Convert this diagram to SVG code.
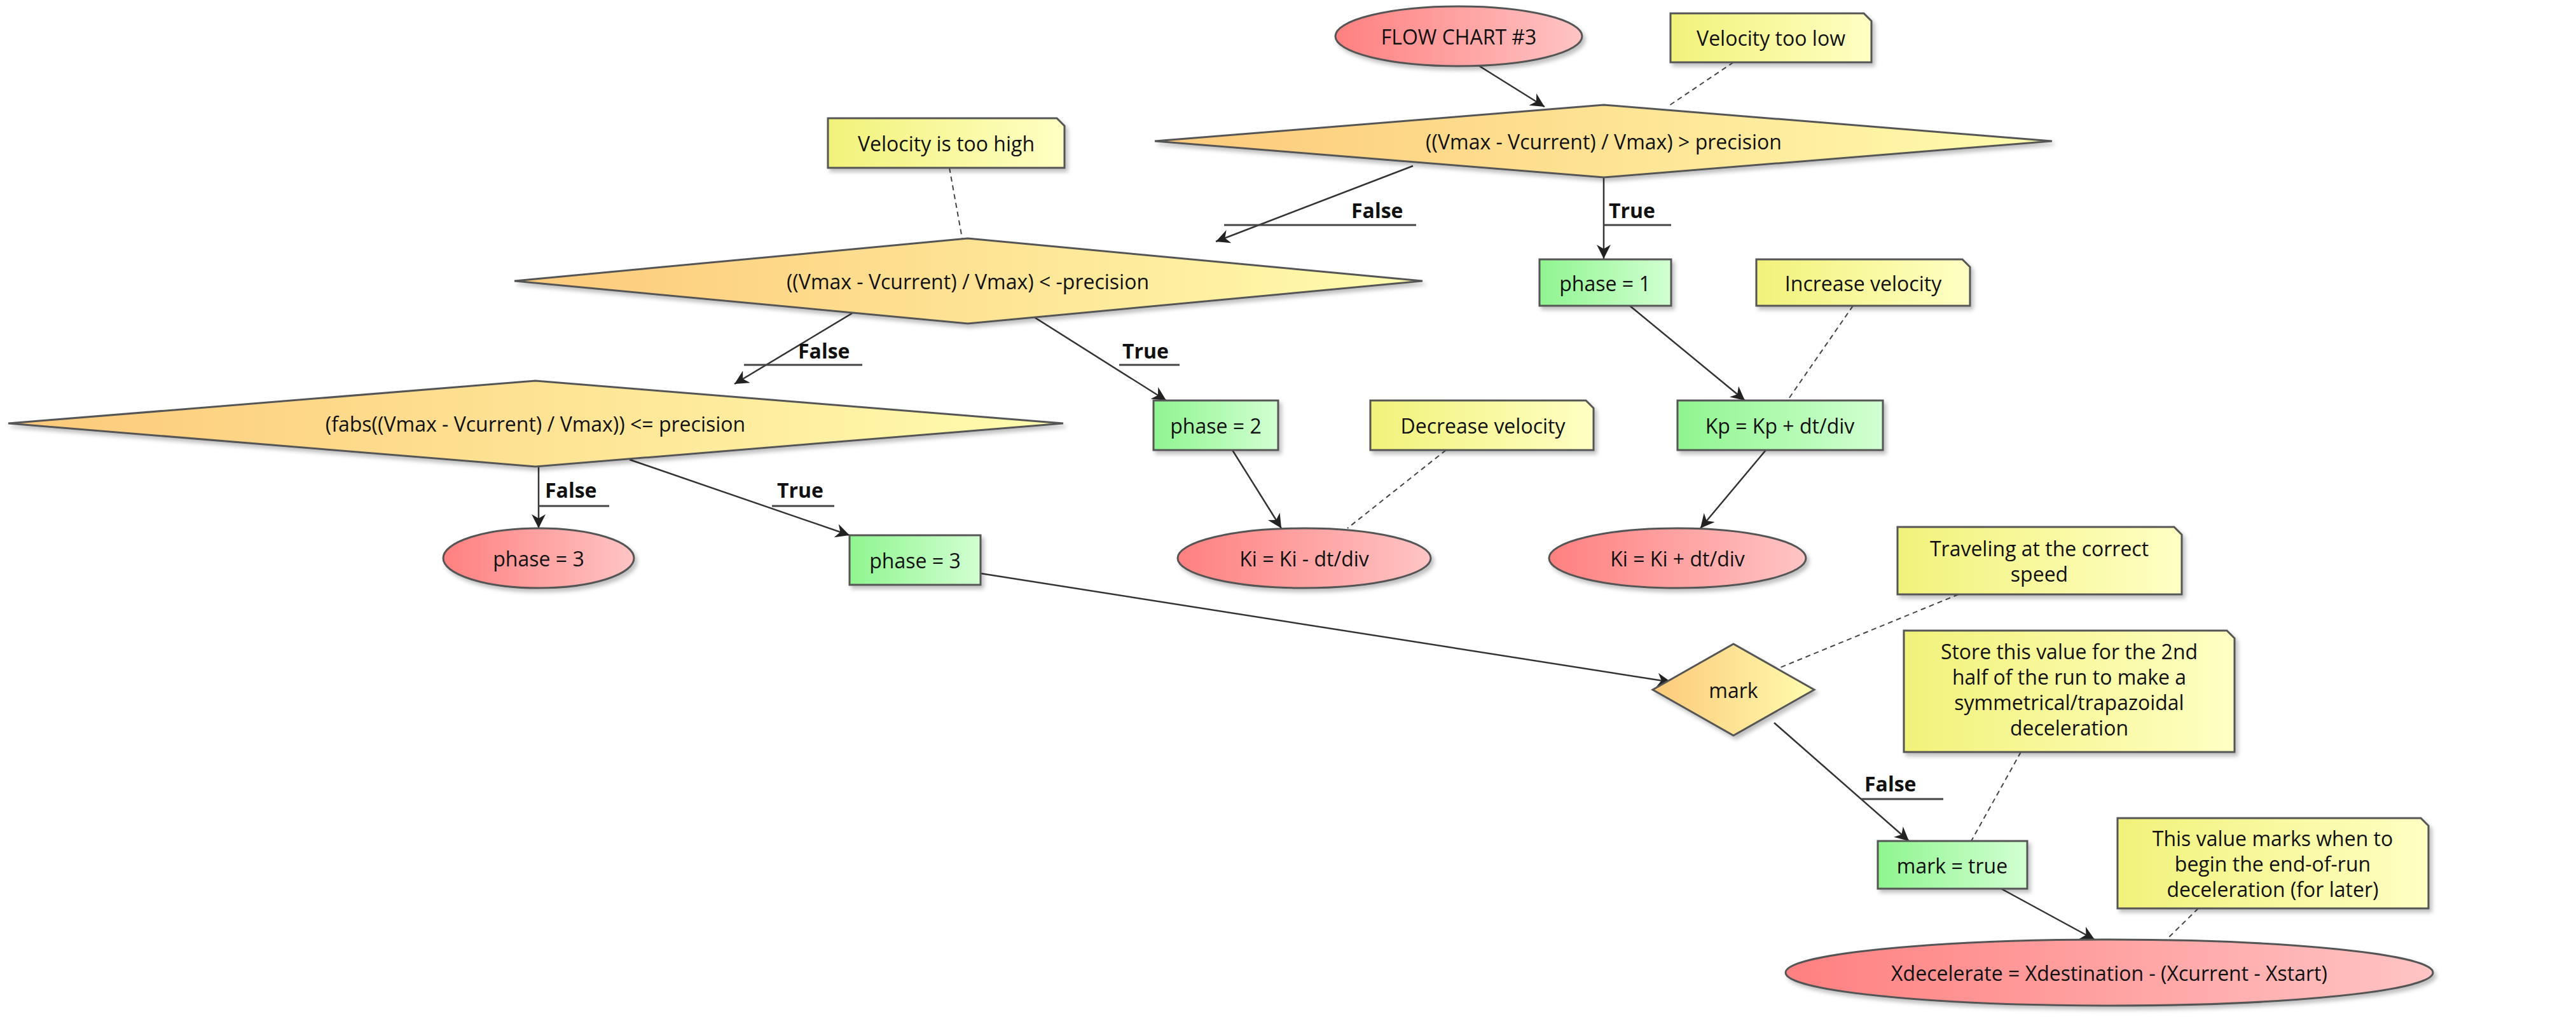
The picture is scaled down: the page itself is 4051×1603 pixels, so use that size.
<svg xmlns="http://www.w3.org/2000/svg" width="4051" height="1603" viewBox="0 0 4051 1603">
<defs>
<linearGradient id="gR" x1="0" x2="1" y1="0" y2="0"><stop offset="0" stop-color="#ff8080"/><stop offset="1" stop-color="#ffc4c4"/></linearGradient>
<linearGradient id="gD" x1="0" x2="1" y1="0" y2="0"><stop offset="0" stop-color="#fdc97a"/><stop offset="1" stop-color="#fffcae"/></linearGradient>
<linearGradient id="gG" x1="0" x2="1" y1="0" y2="0"><stop offset="0" stop-color="#8ff58f"/><stop offset="1" stop-color="#d2ffd2"/></linearGradient>
<linearGradient id="gN" x1="0" x2="1" y1="0" y2="0"><stop offset="0" stop-color="#f1f27a"/><stop offset="1" stop-color="#ffffc4"/></linearGradient>
<marker id="arr" viewBox="0 0 10 10" refX="10" refY="5" markerWidth="22" markerHeight="22" markerUnits="userSpaceOnUse" orient="auto"><path d="M0,0 L10,5 L0,10 L3,5 z" fill="#222"/></marker>
<filter id="sh" x="-10%" y="-10%" width="130%" height="140%"><feDropShadow dx="4" dy="5" stdDeviation="3" flood-color="#000" flood-opacity="0.25"/></filter>
</defs>
<style>
text{font-family:"Open Sans","DejaVu Sans",sans-serif;font-size:32px;fill:#111;text-anchor:middle;dominant-baseline:central}
.lb{font-weight:bold;text-anchor:start}
.sh{stroke:#555;stroke-width:3;filter:url(#sh)}
.e{stroke:#333;stroke-width:2.5;fill:none;marker-end:url(#arr)}
.d{stroke:#444;stroke-width:2;fill:none;stroke-dasharray:8,6}
.u{stroke:#444;stroke-width:3}
</style>
<rect width="4051" height="1603" fill="#fff"/>
<g id="connectors">
<line class="e" x1="2325" y1="103" x2="2429" y2="168"/>
<line class="d" x1="2726" y1="98" x2="2622" y2="168"/>
<line class="e" x1="2222" y1="261" x2="1912" y2="380"/>
<text class="lb" x="2125" y="330">False</text><line class="u" x1="1925" y1="354" x2="2227" y2="354"/>
<line class="e" x1="2522" y1="279" x2="2522" y2="407"/>
<text class="lb" x="2530" y="330">True</text><line class="u" x1="2522" y1="354" x2="2628" y2="354"/>
<line class="d" x1="1493" y1="264" x2="1514" y2="380"/>
<line class="e" x1="1343" y1="491" x2="1155" y2="604"/>
<text class="lb" x="1255" y="551">False</text><line class="u" x1="1170" y1="574" x2="1356" y2="574"/>
<line class="e" x1="1617" y1="493" x2="1834" y2="630"/>
<text class="lb" x="1765" y="551">True</text><line class="u" x1="1760" y1="574" x2="1855" y2="574"/>
<line class="e" x1="847" y1="734" x2="847" y2="831"/>
<text class="lb" x="857" y="770">False</text><line class="u" x1="847" y1="796" x2="958" y2="796"/>
<line class="e" x1="990" y1="723" x2="1336" y2="842"/>
<text class="lb" x="1222" y="770">True</text><line class="u" x1="1214" y1="796" x2="1312" y2="796"/>
<line class="e" x1="1938" y1="708" x2="2015" y2="831"/>
<line class="d" x1="2274" y1="708" x2="2119" y2="831"/>
<line class="e" x1="2563" y1="481" x2="2744" y2="630"/>
<line class="d" x1="2914" y1="481" x2="2811" y2="630"/>
<line class="e" x1="2777" y1="708" x2="2674" y2="831"/>
<line class="e" x1="1542" y1="902" x2="2628" y2="1073"/>
<line class="d" x1="3080" y1="935" x2="2790" y2="1054"/>
<line class="e" x1="2790" y1="1137" x2="3002" y2="1323"/>
<text class="lb" x="2932" y="1232">False</text><line class="u" x1="2927" y1="1257" x2="3056" y2="1257"/>
<line class="d" x1="3178" y1="1183" x2="3100" y2="1323"/>
<line class="e" x1="3147" y1="1398" x2="3294" y2="1478"/>
<line class="d" x1="3457" y1="1429" x2="3405" y2="1480"/>
</g>
<g id="start"><ellipse class="sh" cx="2294" cy="57" rx="194" ry="47" fill="url(#gR)"/><text x="2294" y="57">FLOW CHART #3</text></g>
<g id="noteLow"><path class="sh" d="M2627,21 H2931 L2943,33 V98 H2627 Z" fill="url(#gN)"/><text x="2785" y="59">Velocity too low</text></g>
<g id="d1"><path class="sh" d="M1816,222 L2522,165 L3227,222 L2522,279 Z" fill="url(#gD)"/><text x="2522" y="222">((Vmax - Vcurrent) / Vmax) &gt; precision</text></g>
<g id="noteHigh"><path class="sh" d="M1302,186 H1662 L1674,198 V264 H1302 Z" fill="url(#gN)"/><text x="1488" y="225">Velocity is too high</text></g>
<g id="d2"><path class="sh" d="M809,442 L1522,375 L2237,442 L1522,509 Z" fill="url(#gD)"/><text x="1522" y="442">((Vmax - Vcurrent) / Vmax) &lt; -precision</text></g>
<g id="d3"><path class="sh" d="M13,666 L842,599 L1672,666 L842,734 Z" fill="url(#gD)"/><text x="842" y="666">(fabs((Vmax - Vcurrent) / Vmax)) &lt;= precision</text></g>
<g id="phase1"><rect class="sh" x="2421" y="408" width="207" height="73" fill="url(#gG)"/><text x="2524" y="445">phase = 1</text></g>
<g id="noteInc"><path class="sh" d="M2762,408 H3086 L3098,420 V481 H2762 Z" fill="url(#gN)"/><text x="2930" y="445">Increase velocity</text></g>
<g id="phase2"><rect class="sh" x="1814" y="630" width="196" height="78" fill="url(#gG)"/><text x="1912" y="669">phase = 2</text></g>
<g id="noteDec"><path class="sh" d="M2155,630 H2494 L2506,642 V708 H2155 Z" fill="url(#gN)"/><text x="2332" y="669">Decrease velocity</text></g>
<g id="kp"><rect class="sh" x="2638" y="630" width="323" height="78" fill="url(#gG)"/><text x="2799" y="669">Kp = Kp + dt/div</text></g>
<g id="phase3e"><ellipse class="sh" cx="847" cy="878" rx="150" ry="47" fill="url(#gR)"/><text x="847" y="878">phase = 3</text></g>
<g id="phase3b"><rect class="sh" x="1336" y="842" width="206" height="78" fill="url(#gG)"/><text x="1439" y="881">phase = 3</text></g>
<g id="kiMinus"><ellipse class="sh" cx="2051" cy="878" rx="199" ry="47" fill="url(#gR)"/><text x="2051" y="878">Ki = Ki - dt/div</text></g>
<g id="kiPlus"><ellipse class="sh" cx="2638" cy="878" rx="202" ry="47" fill="url(#gR)"/><text x="2638" y="878">Ki = Ki + dt/div</text></g>
<g id="noteTravel"><path class="sh" d="M2984,829 H3419 L3431,841 V935 H2984 Z" fill="url(#gN)"/><text x="3207" y="862">Traveling at the correct</text><text x="3207" y="902">speed</text></g>
<g id="mark"><path class="sh" d="M2599,1085 L2726,1013 L2853,1085 L2726,1157 Z" fill="url(#gD)"/><text x="2726" y="1085">mark</text></g>
<g id="noteStore"><path class="sh" d="M2994,992 H3502 L3514,1004 V1183 H2994 Z" fill="url(#gN)"/><text x="3254" y="1024">Store this value for the 2nd</text><text x="3254" y="1064">half of the run to make a</text><text x="3254" y="1104">symmetrical/trapazoidal</text><text x="3254" y="1144">deceleration</text></g>
<g id="markTrue"><rect class="sh" x="2953" y="1323" width="235" height="75" fill="url(#gG)"/><text x="3070" y="1361">mark = true</text></g>
<g id="noteMarks"><path class="sh" d="M3330,1287 H3807 L3819,1299 V1429 H3330 Z" fill="url(#gN)"/><text x="3574" y="1318">This value marks when to</text><text x="3574" y="1358">begin the end-of-run</text><text x="3574" y="1398">deceleration (for later)</text></g>
<g id="xdec"><ellipse class="sh" cx="3317" cy="1530" rx="509" ry="52" fill="url(#gR)"/><text x="3317" y="1530">Xdecelerate = Xdestination - (Xcurrent - Xstart)</text></g>
</svg>
